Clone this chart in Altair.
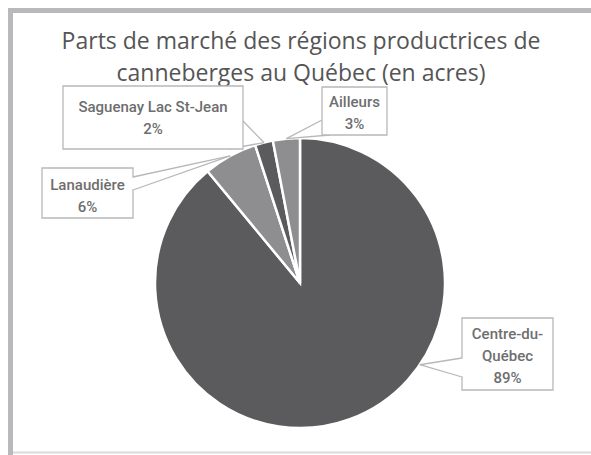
import altair as alt
import pandas as pd
import numpy as np

# ---- data ----
regions = ["Centre-du-Québec", "Lanaudière", "Saguenay Lac St-Jean", "Ailleurs"]
shares = [89, 6, 2, 3]
label_names = ["Centre-du-\nQuébec", "Lanaudière", "Saguenay Lac St-Jean", "Ailleurs"]
slice_colors = ["#5b5b5d", "#8e8e90", "#5b5b5d", "#8e8e90"]
title_lines = ["Parts de marché des régions productrices de",
               "canneberges au Québec (en acres)"]

W, H = 591, 455
CX, CY, R = 300, 283, 145

df = pd.DataFrame({"region": regions, "value": shares, "idx": range(len(regions))})
df["label"] = [f"{n}\n{v}%" for n, v in zip(label_names, shares)]

# slice angles (clockwise from 12 o'clock)
tot = sum(shares)
ends = np.cumsum(shares) / tot * 2 * np.pi
starts = ends - np.array(shares) / tot * 2 * np.pi
tip_frac = [0.388, 0.5, 0.5, 0.5]
tip_ang = starts + (ends - starts) * np.array(tip_frac)
tip_x = CX + R * np.sin(tip_ang)
tip_y = CY - R * np.cos(tip_ang)

# ---- callout layout (box, first text line, pointer bases) ----
box_x = [462, 42, 63, 322]
box_x2 = [553, 133, 243, 387]
box_y = [318, 168, 86, 87]
box_y2 = [390, 218, 149, 135]
txt_x = [507.5, 87.5, 153, 354.5]
txt_y = [334, 185, 107, 102]
base1 = [(462, 358), (133, 177), (243, 121), (322, 120)]
base2 = [(462, 377), (133, 190), (229, 149), (330, 135)]

boxes = pd.DataFrame({"x": box_x, "x2": box_x2, "y": box_y, "y2": box_y2,
                      "tx": txt_x, "ty": txt_y, "label": df["label"]})
ptr_rows = []
for i in range(len(regions)):
    for b in (base1[i], base2[i]):
        ptr_rows.append({"x": b[0], "y": b[1], "x2": tip_x[i], "y2": tip_y[i]})
ptrs = pd.DataFrame(ptr_rows)
covers = pd.DataFrame({"x": [462, 133], "y": [358.8, 177.8], "x2": [462, 133], "y2": [376.2, 189.2]})

xs = alt.Scale(domain=[0, W], range=[0, W], nice=False, zero=False)
ys = alt.Scale(domain=[0, H], range=[0, H], nice=False, zero=False)

frame_left = alt.Chart(df).mark_rule(color="#b9b9bd", strokeWidth=5).encode(
    x=alt.value(10.5), y=alt.value(8), y2=alt.value(H))
frame_top = alt.Chart(df).mark_rule(color="#b9b9bd", strokeWidth=5).encode(
    x=alt.value(8), x2=alt.value(W), y=alt.value(10.5))
frame_bottom = alt.Chart(df).mark_rule(color="#dedede", strokeWidth=1.5).encode(
    x=alt.value(13), x2=alt.value(W), y=alt.value(452.5))

title = alt.Chart(pd.DataFrame({"t": ["\n".join(title_lines)]})).mark_text(
    font="Open Sans", fontSize=23, fontWeight=500, color="#555555", lineBreak="\n",
    lineHeight=32, align="center", baseline="middle").encode(
    x=alt.value(301), y=alt.value(42), text="t:N")

pie = alt.Chart(df).mark_arc(outerRadius=R, stroke="white", strokeWidth=2.5).encode(
    theta=alt.Theta("value:Q", stack=True),
    order=alt.Order("idx:Q"),
    color=alt.Color("region:N", scale=alt.Scale(domain=regions, range=slice_colors), legend=None),
    x=alt.value(CX), y=alt.value(CY))

box_layer = alt.Chart(boxes).mark_rect(fill="white", stroke="#b8b8b8", strokeWidth=1.3).encode(
    x=alt.X("x:Q", scale=xs, axis=None), x2="x2:Q",
    y=alt.Y("y:Q", scale=ys, axis=None), y2="y2:Q")
cover_layer = alt.Chart(covers).mark_rule(color="white", strokeWidth=2).encode(
    x=alt.X("x:Q", scale=xs, axis=None), x2="x2:Q",
    y=alt.Y("y:Q", scale=ys, axis=None), y2="y2:Q")
ptr_layer = alt.Chart(ptrs).mark_rule(color="#b8b8b8", strokeWidth=1.3).encode(
    x=alt.X("x:Q", scale=xs, axis=None), x2="x2:Q",
    y=alt.Y("y:Q", scale=ys, axis=None), y2="y2:Q")
txt_layer = alt.Chart(boxes).mark_text(
    font="Roboto", fontSize=15, fontWeight=500, color="#6e6e6e", lineBreak="\n",
    lineHeight=22, align="center", baseline="middle").encode(
    x=alt.X("tx:Q", scale=xs, axis=None), y=alt.Y("ty:Q", scale=ys, axis=None), text="label:N")

chart = alt.layer(frame_left, frame_top, frame_bottom, title, pie, ptr_layer, box_layer,
                  cover_layer, txt_layer).resolve_scale(color="independent").properties(
    width=W, height=H, autosize=alt.AutoSizeParams(type="none"), padding=0,
    background="white").configure_view(stroke=None)

chart.save("out.html", embed_options={"renderer": "svg", "actions": False})
